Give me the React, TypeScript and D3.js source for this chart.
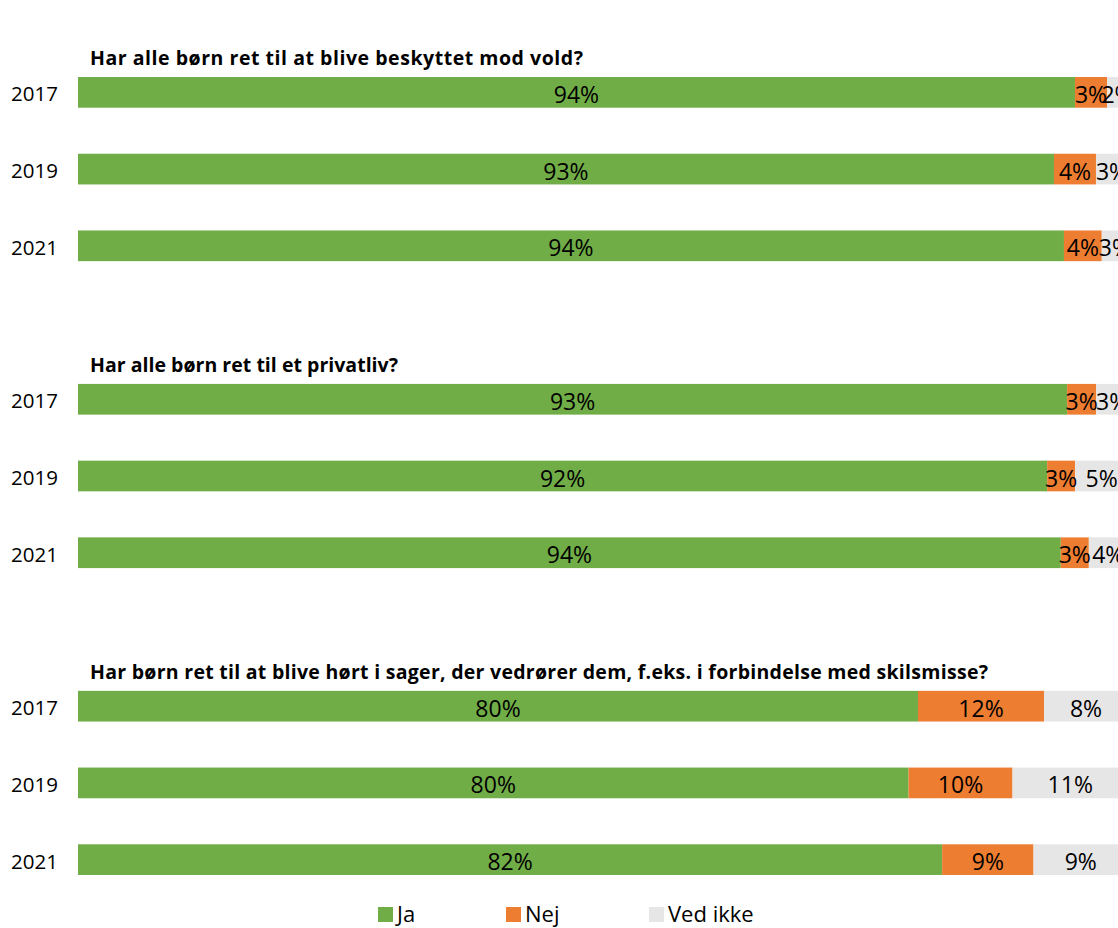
import React, { useEffect } from "react";
import * as d3 from "d3";

const questions = [
  "Har alle børn ret til at blive beskyttet mod vold?",
  "Har alle børn ret til et privatliv?",
  "Har børn ret til at blive hørt i sager, der vedrører dem, f.eks. i forbindelse med skilsmisse?",
];
const years = ["2017", "2019", "2021"];
const seriesNames = ["Ja", "Nej", "Ved ikke"];
const seriesColors = ["#70AD47", "#ED7D31", "#E7E6E6"];

// values per question, per year (percent)
const jaValues = [
  [94.95, 92.95, 93.9],
  [94.2, 92.3, 93.6],
  [80.0, 79.1, 82.3],
];
const nejValues = [
  [3.05, 4.0, 3.6],
  [2.76, 2.67, 2.67],
  [12.0, 9.9, 8.7],
];
const vedIkkeValues = [
  [2.0, 3.05, 2.5],
  [3.05, 5.05, 3.7],
  [8.0, 11.0, 9.0],
];
// data labels as printed
const jaLabels = [
  ["94%", "93%", "94%"],
  ["93%", "92%", "94%"],
  ["80%", "80%", "82%"],
];
const nejLabels = [
  ["3%", "4%", "4%"],
  ["3%", "3%", "3%"],
  ["12%", "10%", "9%"],
];
const vedIkkeLabels = [
  ["2%", "3%", "3%"],
  ["3%", "5%", "4%"],
  ["8%", "11%", "9%"],
];

const FONT = "'Open Sans', 'Noto Sans', sans-serif";
const titleWidths = [493, 308, 898];

export default function App() {
  useEffect(() => {
    document.body.style.margin = "0";
    document.body.style.overflow = "hidden";
  }, []);

  const W = 1118;
  const H = 928;

  const x = d3.scaleLinear().domain([0, 100]).range([78, 1128]);

  const slots: string[] = [];
  questions.forEach((_, qi) => {
    years.forEach((y) => slots.push(`${qi}-${y}`));
    if (qi < questions.length - 1) slots.push(`gap${qi}`);
  });
  const yScale = d3
    .scaleBand<string>()
    .domain(slots)
    .range([54, 898])
    .paddingInner(0.6)
    .paddingOuter(0.3);
  const bw = yScale.bandwidth();

  const allValues = [jaValues, nejValues, vedIkkeValues];
  const allLabels = [jaLabels, nejLabels, vedIkkeLabels];

  const legendX = [378, 506, 649];

  return (
    <svg width={W} height={H} style={{ display: "block", background: "#fff" }} fontFamily={FONT}>
      {questions.map((q, qi) => {
        const top = yScale(`${qi}-${years[0]}`)!;
        return (
          <g key={qi}>
            <text
              x={90}
              y={top - 12}
              fontSize={19.5}
              fontWeight="bold"
              fill="#000"
              textLength={titleWidths[qi]}
              lengthAdjust="spacing"
            >
              {q}
            </text>
            {years.map((yr, yi) => {
              const y0 = yScale(`${qi}-${yr}`)!;
              const stack = d3.cumsum(allValues.map((s) => s[qi][yi]));
              return (
                <g key={yr}>
                  <text
                    x={58}
                    y={y0 + bw / 2 + 1}
                    textAnchor="end"
                    dominantBaseline="central"
                    fontSize={20.5}
                    fill="#000"
                  >
                    {yr}
                  </text>
                  {allValues.map((s, si) => {
                    const start = si === 0 ? 0 : stack[si - 1];
                    const end = stack[si];
                    return (
                      <rect
                        key={si}
                        x={x(start)}
                        y={y0}
                        width={x(end) - x(start)}
                        height={bw}
                        fill={seriesColors[si]}
                      />
                    );
                  })}
                  {allValues.map((s, si) => {
                    const start = si === 0 ? 0 : stack[si - 1];
                    const end = stack[si];
                    return (
                      <text
                        key={si}
                        x={(x(start) + x(end)) / 2}
                        y={y0 + bw / 2 + 1.5}
                        textAnchor="middle"
                        dominantBaseline="central"
                        fontSize={23}
                        fill="#000"
                      >
                        {allLabels[si][qi][yi]}
                      </text>
                    );
                  })}
                </g>
              );
            })}
          </g>
        );
      })}
      {seriesNames.map((n, i) => (
        <g key={n}>
          <rect x={legendX[i]} y={907} width={15} height={15} fill={seriesColors[i]} />
          <text x={legendX[i] + 19} y={922} fontSize={22} fill="#000">
            {n}
          </text>
        </g>
      ))}
    </svg>
  );
}
